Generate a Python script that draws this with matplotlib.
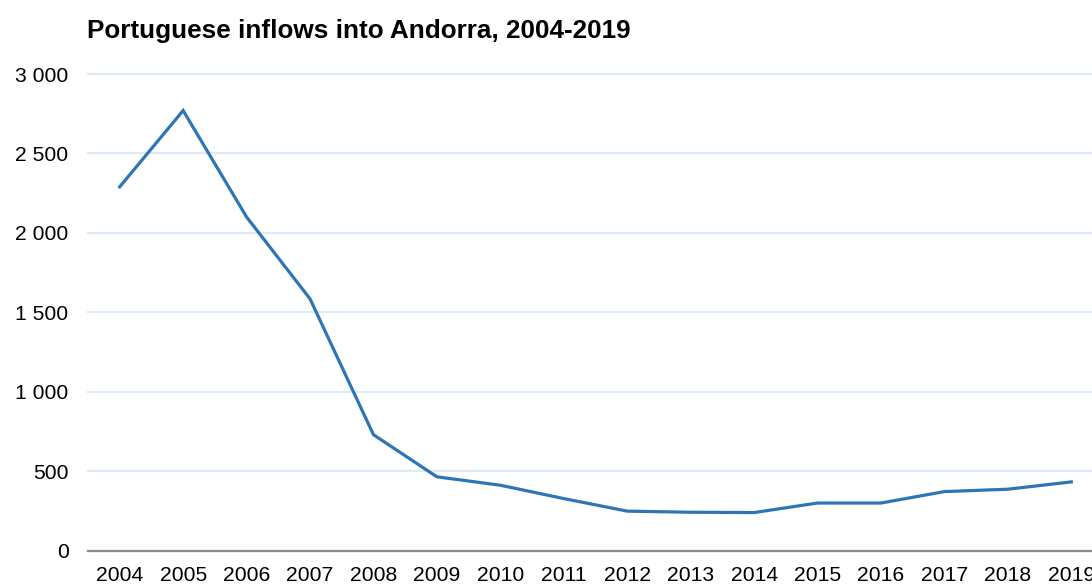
import matplotlib
matplotlib.use("Agg")
import matplotlib.pyplot as plt
from matplotlib.ticker import FuncFormatter

# Portuguese inflows into Andorra
years = [2004, 2005, 2006, 2007, 2008, 2009, 2010, 2011,
         2012, 2013, 2014, 2015, 2016, 2017, 2018, 2019]
inflows = [2290, 2770, 2100, 1585, 730, 465, 412, 328,
           249, 242, 240, 300, 300, 372, 387, 433]

plt.rcParams['font.family'] = ['Liberation Sans', 'DejaVu Sans']

fig = plt.figure(figsize=(10.92, 5.85), dpi=100)
ax = fig.add_axes([88 / 1092, 1 - 550.7 / 585, (1103 - 88) / 1092, (550.7 - 74) / 585])

ax.plot(years, inflows, color='#2E75B6', linewidth=2.3, solid_joinstyle='miter', zorder=3)

ax.set_xlim(years[0] - 0.5, years[-1] + 0.5)
ax.set_ylim(0, 3000)
ax.set_xticks(years)
ax.set_yticks(range(0, 3001, 500))
ax.yaxis.set_major_formatter(FuncFormatter(lambda v, p: f"{int(v):,}".replace(",", " ")))

ax.grid(axis='y', color='#DEEBF7', linewidth=1.6, zorder=0)
for gl in ax.get_ygridlines():
    gl.set_clip_on(False)
ax.set_axisbelow(True)

for s in ['top', 'right', 'left']:
    ax.spines[s].set_visible(False)
ax.spines['bottom'].set_color('#8C8C8C')
ax.spines['bottom'].set_linewidth(1.6)

ax.tick_params(axis='both', length=0, labelsize=15.2, colors='#000000')
ax.tick_params(axis='y', pad=14)
ax.tick_params(axis='x', pad=11)

fig.text(87 / 1092, 1 - 31 / 585, "Portuguese inflows into Andorra, 2004-2019",
         fontsize=18.8, fontweight='bold', ha='left', va='center')

fig.savefig('out.png', dpi=100)
